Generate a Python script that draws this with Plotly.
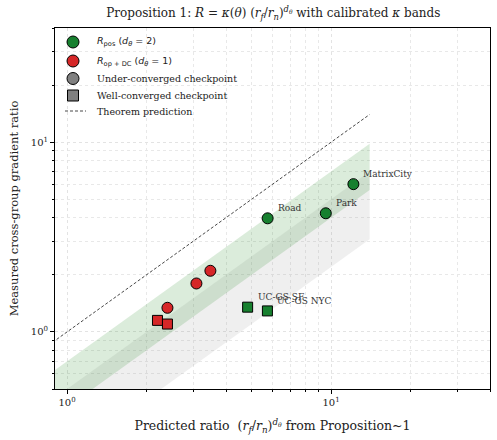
import numpy as np
import plotly.graph_objects as go

# ---- data ----
pos_under_names = ["Road", "Park", "MatrixCity"]
pos_under_x = [5.75, 9.55, 12.15]
pos_under_y = [3.97, 4.22, 6.01]

pos_well_names = ["UC-GS SF", "UC-GS NYC"]
pos_well_x = [4.83, 5.74]
pos_well_y = [1.35, 1.29]

op_under_x = [2.40, 3.09, 3.49]
op_under_y = [1.34, 1.80, 2.10]

op_well_x = [2.20, 2.40]
op_well_y = [1.15, 1.10]

band_x = [0.8, 14.0]
green_kappa = [0.40, 0.70]
gray_kappa = [0.22, 0.50]
theory_x = [0.5, 14.0]

legend_labels = [
    "<span style='font-family:DejaVu Sans'><i>R</i><sub>pos</sub> (<i>d<sub>θ</sub></i> = 2)</span>",
    "<span style='font-family:DejaVu Sans'><i>R</i><sub>op + DC</sub> (<i>d<sub>θ</sub></i> = 1)</span>",
    "Under-converged checkpoint",
    "Well-converged checkpoint",
    "Theorem prediction",
]

GREEN = "#17802f"
RED = "#d62728"
GRAY = "#808080"
SERIF = "DejaVu Serif"
DASH = "3px,2px"

fig = go.Figure()

def band(kappa, color):
    x0, x1 = band_x
    xs = [x0, x1, x1, x0, x0]
    ys = [kappa[0] * x0, kappa[0] * x1, kappa[1] * x1, kappa[1] * x0, kappa[0] * x0]
    fig.add_trace(go.Scatter(x=xs, y=ys, fill="toself", fillcolor=color,
                             line=dict(width=0), mode="lines",
                             hoverinfo="skip", showlegend=False))

band(gray_kappa, "rgba(128,128,128,0.13)")
band(green_kappa, "rgba(34,139,34,0.16)")

fig.add_trace(go.Scatter(x=theory_x, y=theory_x, mode="lines",
                         line=dict(color="#333", width=0.9, dash=DASH),
                         showlegend=False))

mline = dict(color="black", width=1)
fig.add_trace(go.Scatter(x=pos_under_x, y=pos_under_y, mode="markers",
                         marker=dict(symbol="circle", size=11, color=GREEN, line=mline),
                         showlegend=False))
fig.add_trace(go.Scatter(x=pos_well_x, y=pos_well_y, mode="markers",
                         marker=dict(symbol="square", size=10, color=GREEN, line=mline),
                         showlegend=False))
fig.add_trace(go.Scatter(x=op_under_x, y=op_under_y, mode="markers",
                         marker=dict(symbol="circle", size=11, color=RED, line=mline),
                         showlegend=False))
fig.add_trace(go.Scatter(x=op_well_x, y=op_well_y, mode="markers",
                         marker=dict(symbol="square", size=10, color=RED, line=mline),
                         showlegend=False))

for names, xs, ys in [(pos_under_names, pos_under_x, pos_under_y),
                      (pos_well_names, pos_well_x, pos_well_y)]:
    for n, x, y in zip(names, xs, ys):
        fig.add_annotation(x=np.log10(x), y=np.log10(y), text=n, showarrow=False,
                           xanchor="left", yanchor="middle", xshift=8, yshift=10,
                           font=dict(family=SERIF, size=9, color="#333"))

# ---- manual legend (plot area: x 55..490 px, y 28..389 px) ----
L, R, T, B = 55, 490, 28, 389
def px(xp):
    return (xp - L) / (R - L)
def py(yp):
    return (B - yp) / (B - T)

rows_y = [42, 61, 78.5, 95.5, 111]
swatches = [("circle", GREEN), ("circle", RED), ("circle", GRAY), ("square", GRAY), ("line", None)]
mx = 73
for (kind, col), ry, lab in zip(swatches, rows_y, legend_labels):
    if kind == "circle":
        fig.add_shape(type="circle", xref="paper", yref="paper",
                      xsizemode="pixel", ysizemode="pixel",
                      xanchor=px(mx), yanchor=py(ry), x0=-6, x1=6, y0=-6, y1=6,
                      fillcolor=col, line=dict(color="black", width=1))
    elif kind == "square":
        fig.add_shape(type="rect", xref="paper", yref="paper",
                      xsizemode="pixel", ysizemode="pixel",
                      xanchor=px(mx), yanchor=py(ry), x0=-5.5, x1=5.5, y0=-5.5, y1=5.5,
                      fillcolor=col, line=dict(color="black", width=1))
    else:
        fig.add_shape(type="line", xref="paper", yref="paper",
                      x0=px(65), x1=px(86), y0=py(ry), y1=py(ry),
                      line=dict(color="#333", width=0.9, dash=DASH))
    fig.add_annotation(x=px(95), y=py(ry), xref="paper", yref="paper", text=lab,
                       showarrow=False, xanchor="left", yanchor="middle",
                       font=dict(family=SERIF, size=9.5, color="#222"))

minor_x = [v * 10 ** k for k in range(0, 2) for v in range(2, 10)] + [20, 30, 40]
minor_y = [0.5, 0.6, 0.7, 0.8, 0.9] + [v * 10 ** k for k in range(0, 2) for v in range(2, 10)] + [20, 30, 40]

axis_common = dict(type="log", showline=True, linecolor="black", linewidth=1, mirror=True,
                   ticks="outside", ticklen=4, tickcolor="black",
                   showgrid=True, gridcolor="#e3e3e3", griddash="dot", gridwidth=0.8,
                   zeroline=False, tickfont=dict(family=SERIF, size=10, color="#222"))

fig.update_xaxes(**axis_common, range=[np.log10(0.9), np.log10(40)],
                 tickvals=[1, 10], ticktext=["10<sup>0</sup>", "10<sup>1</sup>"],
                 minor=dict(tickvals=minor_x, ticks="outside", ticklen=2, tickcolor="black",
                            showgrid=True, gridcolor="#e8e8e8", griddash="dot", gridwidth=0.6),
                 title=dict(text="Predicted ratio&nbsp; (<i>r<sub>f</sub></i>/<i>r<sub>n</sub></i>)<sup><i>d<sub>θ</sub></i></sup> from Proposition~1",
                            font=dict(family=SERIF, size=12.5, color="#222"), standoff=14))
fig.update_yaxes(**axis_common, range=[np.log10(0.5), np.log10(40)],
                 tickvals=[1, 10], ticktext=["10<sup>0</sup>", "10<sup>1</sup>"],
                 minor=dict(tickvals=minor_y, ticks="outside", ticklen=2, tickcolor="black",
                            showgrid=True, gridcolor="#e8e8e8", griddash="dot", gridwidth=0.6),
                 title=dict(text="Measured cross-group gradient ratio",
                            font=dict(family=SERIF, size=11.5, color="#222"), standoff=9))

fig.update_layout(
    width=497, height=440,
    margin=dict(l=55, r=7, t=28, b=51),
    plot_bgcolor="white", paper_bgcolor="white",
    title=dict(text="Proposition 1: <i>R</i> = <i>κ</i>(<i>θ</i>) (<i>r<sub>f</sub></i>/<i>r<sub>n</sub></i>)<sup><i>d<sub>θ</sub></i></sup> with calibrated <i>κ</i> bands",
               x=0.55, xanchor="center", y=0.97, yanchor="middle",
               font=dict(family=SERIF, size=12, color="#222")),
    showlegend=False,
)

fig.write_html("out.html")
